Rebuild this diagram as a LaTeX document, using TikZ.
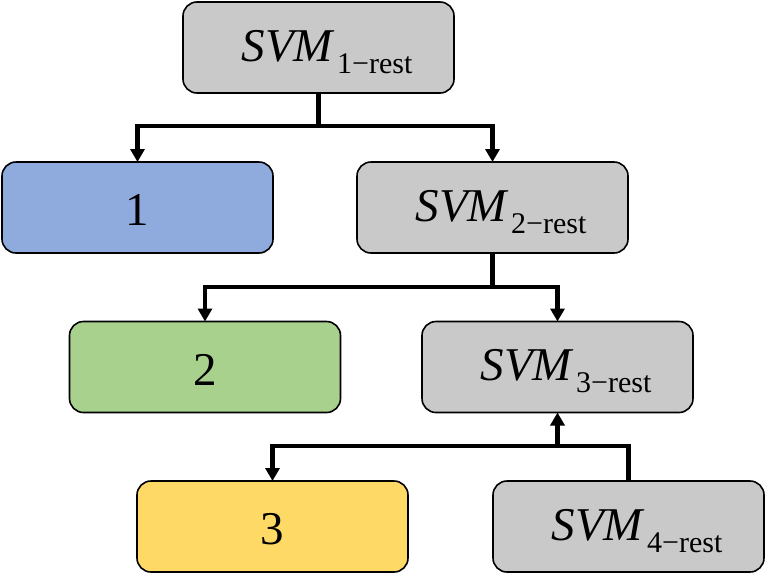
\documentclass[tikz,border=0pt]{standalone}
\usepackage{fontspec}
\setmainfont{Liberation Serif}
\usetikzlibrary{arrows.meta}
\definecolor{boxgray}{RGB}{201,201,201}
\definecolor{boxblue}{RGB}{143,170,220}
\definecolor{boxgreen}{RGB}{169,209,142}
\definecolor{boxyellow}{RGB}{255,217,102}
\newcommand{\svmlab}[1]{\fontsize{47}{50}\selectfont\textit{SVM}\kern2pt\raisebox{-12pt}{\fontsize{30}{32}\selectfont #1\char"2212 rest}}
\newcommand{\diglab}[1]{\fontsize{47}{50}\selectfont #1}
\begin{document}
\begin{tikzpicture}[x=1pt,y=-1pt,
  box/.style={draw=black,line width=1.6pt,rounded corners=14pt,minimum width=271pt,minimum height=91pt,inner sep=0pt,outer sep=0pt},
  conn/.style={line width=4.5pt},
  arr/.style={line width=4.5pt,-{Triangle[length=13pt,width=14pt]}},
  txt/.style={inner sep=0pt,anchor=base}]
\useasboundingbox (0,0) rectangle (768,576);
\node[box,fill=boxgray]   (s1) at (318.5,47.5) {};
\node[box,fill=boxblue]   (n1) at (137.5,207.5) {};
\node[box,fill=boxgray]   (s2) at (492.5,207.5) {};
\node[box,fill=boxgreen]  (n2) at (205,367) {};
\node[box,fill=boxgray]   (s3) at (557.5,367) {};
\node[box,fill=boxyellow] (n3) at (272.5,526.5) {};
\node[box,fill=boxgray]   (s4) at (628.5,526.5) {};
\node[txt] (t1) at ([shift={(8.5,13.5)}]s1.center) {\svmlab{1}};
\node[txt] (t2) at ([shift={(8.5,13.5)}]s2.center) {\svmlab{2}};
\node[txt] (t3) at ([shift={(8.5,13.5)}]s3.center) {\svmlab{3}};
\node[txt] (t4) at ([shift={(8.5,13.5)}]s4.center) {\svmlab{4}};
\node[txt] (d1) at ([shift={(0,18)}]n1.center) {\diglab{1}};
\node[txt] (d2) at ([shift={(0,18)}]n2.center) {\diglab{2}};
\node[txt] (d3) at ([shift={(0,18)}]n3.center) {\diglab{3}};
\coordinate (r1) at (0,126);
\coordinate (r2) at (0,287);
\coordinate (r3) at (0,446);
\draw[conn] (s1.south) -- (s1.south |- r1);
\draw[arr] (s1.south |- r1) -| (n1.north);
\draw[arr] (s1.south |- r1) -| (s2.north);
\draw[conn] (s2.south) -- (s2.south |- r2);
\draw[arr] (s2.south |- r2) -| (n2.north);
\draw[arr] (s2.south |- r2) -| (s3.north);
\draw[arr] (s4.north) |- (n3.north |- r3) -- (n3.north);
\draw[arr] (s3.south |- r3) -- (s3.south);
\end{tikzpicture}
\end{document}
